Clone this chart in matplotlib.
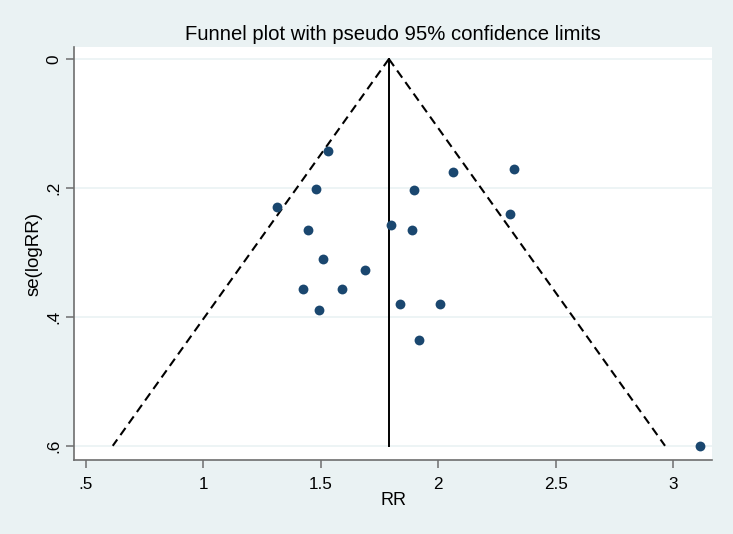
import matplotlib
matplotlib.use("Agg")
import matplotlib.pyplot as plt
import numpy as np

plt.rcParams['font.family'] = ['Liberation Sans', 'DejaVu Sans']

# Study estimates
rr = [1.529, 1.480, 1.315, 1.444, 1.509, 1.687, 1.423, 1.592, 1.494,
      1.800, 1.898, 1.888, 2.062, 2.323, 2.306, 1.837, 2.008, 1.917, 3.115]
se = [0.143, 0.201, 0.230, 0.266, 0.311, 0.328, 0.357, 0.357, 0.390,
      0.257, 0.203, 0.266, 0.175, 0.170, 0.241, 0.380, 0.380, 0.436, 0.601]
pooled_rr = 1.79
se_limits = [0.0, 0.6]
x_ticks = [0.5, 1, 1.5, 2, 2.5, 3]
x_tick_labels = [".5", "1", "1.5", "2", "2.5", "3"]
y_ticks = [0, 0.2, 0.4, 0.6]
y_tick_labels = ["0", ".2", ".4", ".6"]

bg = "#EAF2F3"
navy = "#1A476F"

fig = plt.figure(figsize=(7.33, 5.34), dpi=100, facecolor=bg)
ax = fig.add_axes([74/733, 1-460/534, (712-74)/733, (460-47)/534])
ax.set_facecolor("white")

for yt in y_ticks:
    ax.axhline(yt, color=bg, lw=1.2, zorder=0)

se_arr = np.array(se_limits)
ax.plot(pooled_rr - 1.96*se_arr, se_arr, color="black", ls=(0, (4.2, 2.6)), lw=1.5, zorder=2)
ax.plot(pooled_rr + 1.96*se_arr, se_arr, color="black", ls=(0, (4.2, 2.6)), lw=1.5, zorder=2)
ax.plot([pooled_rr, pooled_rr], se_limits, color="black", lw=1.4, zorder=2)

ax.scatter(rr, se, s=50, color=navy, zorder=3, linewidths=0)

ax.set_xlim(0.449, 3.166)
ax.set_ylim(0.622, -0.0186)
ax.set_xticks(x_ticks)
ax.set_xticklabels(x_tick_labels, fontsize=12.3)
ax.set_yticks(y_ticks)
ax.set_yticklabels(y_tick_labels, fontsize=12.3, rotation=90, va="center")

for s in ["top", "right"]:
    ax.spines[s].set_visible(False)
for s in ["left", "bottom"]:
    ax.spines[s].set_color("#6E6E6E")
    ax.spines[s].set_linewidth(1.2)
ax.tick_params(axis="both", direction="out", length=6, width=1.1, color="#6E6E6E")
ax.tick_params(axis="x", pad=6)
ax.tick_params(axis="y", pad=3)

ax.set_xlabel("RR", fontsize=13, labelpad=0)
ax.set_ylabel("se(logRR)", fontsize=13.5, labelpad=3)
ax.set_title("Funnel plot with pseudo 95% confidence limits", fontsize=14.6, pad=5)

fig.savefig("out.png", dpi=100, facecolor=bg)
